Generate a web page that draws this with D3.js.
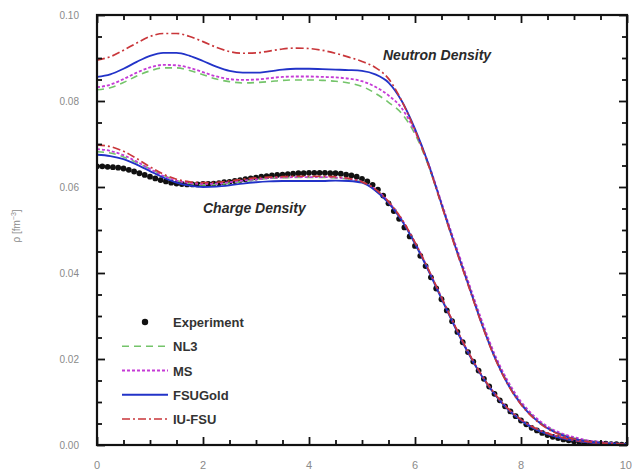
<!DOCTYPE html>
<html>
<head>
<meta charset="utf-8">
<title>Charge and neutron densities</title>
<script src="https://cdn.jsdelivr.net/npm/d3@7"></script>
</head>
<body style="margin:0;background:#fff">
<div id="figure"></div>
<script>
// Radial grid (fm) for the model curves
const radius = [0, 0.25, 0.5, 0.75, 1.0, 1.25, 1.5, 1.75, 2.0, 2.25, 2.5, 2.75, 3.0, 3.25, 3.5, 3.75,
  4.0, 4.25, 4.5, 4.75, 5.0, 5.25, 5.5, 5.75, 6.0, 6.25, 6.5, 6.75, 7.0, 7.25, 7.5, 7.75,
  8.0, 8.25, 8.5, 8.75, 9.0, 9.25, 9.5, 9.75, 10.0];

// Neutron densities (fm^-3)
const nNL3 = [0.0826, 0.0831, 0.0843, 0.0858, 0.0870, 0.0877, 0.0877, 0.0871, 0.0861, 0.0851, 0.0845, 0.0842, 0.0843, 0.0845, 0.0848, 0.0849,
  0.0849, 0.0848, 0.0846, 0.0842, 0.0834, 0.0818, 0.0797, 0.0771, 0.0723, 0.0651, 0.0559, 0.0466, 0.0377, 0.0288, 0.0207, 0.0144,
  0.0097, 0.0064, 0.0041, 0.0026, 0.0016, 0.0010, 0.0006, 0.0004, 0.0002];
const nMS = [0.0832, 0.0838, 0.0851, 0.0866, 0.0878, 0.0884, 0.0883, 0.0877, 0.0867, 0.0857, 0.0851, 0.0849, 0.0850, 0.0853, 0.0856, 0.0857,
  0.0857, 0.0856, 0.0855, 0.0852, 0.0846, 0.0833, 0.0813, 0.0783, 0.0729, 0.0656, 0.0564, 0.0471, 0.0382, 0.0293, 0.0212, 0.0149,
  0.0101, 0.0067, 0.0043, 0.0028, 0.0018, 0.0011, 0.0007, 0.0004, 0.0002];
const nFSUGold = [0.0856, 0.0862, 0.0875, 0.0891, 0.0905, 0.0912, 0.0912, 0.0905, 0.0893, 0.0880, 0.0870, 0.0866, 0.0866, 0.0869, 0.0873, 0.0875,
  0.0875, 0.0874, 0.0873, 0.0872, 0.0870, 0.0862, 0.0843, 0.0800, 0.0735, 0.0655, 0.0560, 0.0465, 0.0375, 0.0285, 0.0205, 0.0142,
  0.0095, 0.0062, 0.0039, 0.0024, 0.0014, 0.0008, 0.0005, 0.0003, 0.0002];
const nIUFSU = [0.0895, 0.0903, 0.0918, 0.0935, 0.0950, 0.0957, 0.0957, 0.0950, 0.0938, 0.0925, 0.0915, 0.0911, 0.0912, 0.0916, 0.0921, 0.0923,
  0.0922, 0.0918, 0.0911, 0.0902, 0.0892, 0.0878, 0.0852, 0.0800, 0.0732, 0.0652, 0.0558, 0.0463, 0.0373, 0.0284, 0.0204, 0.0141,
  0.0094, 0.0061, 0.0038, 0.0023, 0.0014, 0.0008, 0.0005, 0.0003, 0.0002];

// Charge densities (fm^-3)
const cNL3 = [0.0682, 0.0679, 0.0670, 0.0657, 0.0642, 0.0627, 0.0615, 0.0608, 0.0605, 0.0606, 0.0609, 0.0613, 0.0617, 0.0620, 0.0621, 0.0622,
  0.0622, 0.0622, 0.0621, 0.0618, 0.0611, 0.0594, 0.0565, 0.0524, 0.0470, 0.0408, 0.0342, 0.0277, 0.0216, 0.0163, 0.0119, 0.0084,
  0.0058, 0.0039, 0.0026, 0.0017, 0.0011, 0.0007, 0.0004, 0.0002, 0.0001];
const cMS = [0.0688, 0.0684, 0.0674, 0.0659, 0.0642, 0.0626, 0.0615, 0.0609, 0.0607, 0.0608, 0.0611, 0.0615, 0.0618, 0.0621, 0.0622, 0.0623,
  0.0623, 0.0623, 0.0622, 0.0619, 0.0612, 0.0595, 0.0566, 0.0525, 0.0471, 0.0409, 0.0343, 0.0278, 0.0217, 0.0164, 0.0120, 0.0085,
  0.0059, 0.0040, 0.0027, 0.0018, 0.0011, 0.0007, 0.0004, 0.0002, 0.0001];
const cFSUGold = [0.0675, 0.0672, 0.0665, 0.0652, 0.0637, 0.0622, 0.0610, 0.0603, 0.0600, 0.0601, 0.0604, 0.0608, 0.0611, 0.0613, 0.0614, 0.0614,
  0.0614, 0.0614, 0.0615, 0.0614, 0.0610, 0.0592, 0.0563, 0.0522, 0.0468, 0.0406, 0.0340, 0.0275, 0.0215, 0.0162, 0.0118, 0.0083,
  0.0057, 0.0038, 0.0025, 0.0016, 0.0010, 0.0006, 0.0004, 0.0002, 0.0001];
const cIUFSU = [0.0698, 0.0694, 0.0683, 0.0666, 0.0647, 0.0630, 0.0618, 0.0612, 0.0610, 0.0611, 0.0614, 0.0618, 0.0621, 0.0623, 0.0624, 0.0625,
  0.0625, 0.0625, 0.0624, 0.0620, 0.0612, 0.0595, 0.0566, 0.0525, 0.0471, 0.0409, 0.0343, 0.0278, 0.0217, 0.0164, 0.0120, 0.0085,
  0.0059, 0.0040, 0.0027, 0.0018, 0.0011, 0.0007, 0.0004, 0.0002, 0.0001];

// Measured charge density, every 0.1 fm from 0 to 10 fm
const rData = d3.range(0, 101).map(i => i / 10);
const cData = [0.0648, 0.0648, 0.0647, 0.0646, 0.0645, 0.0643, 0.0640, 0.0636, 0.0632, 0.0628,
  0.0624, 0.0620, 0.0616, 0.0613, 0.0610, 0.0608, 0.0607, 0.0606, 0.0606, 0.0606,
  0.0607, 0.0607, 0.0608, 0.0609, 0.0611, 0.0612, 0.0614, 0.0616, 0.0618, 0.0620,
  0.0622, 0.0624, 0.0625, 0.0627, 0.0628, 0.0629, 0.0630, 0.0631, 0.0632, 0.0632,
  0.0633, 0.0633, 0.0633, 0.0633, 0.0632, 0.0632, 0.0631, 0.0629, 0.0627, 0.0624,
  0.0619, 0.0613, 0.0605, 0.0594, 0.0580, 0.0562, 0.0544, 0.0526, 0.0506, 0.0485,
  0.0463, 0.0440, 0.0416, 0.0390, 0.0364, 0.0339, 0.0313, 0.0288, 0.0263, 0.0239,
  0.0216, 0.0194, 0.0173, 0.0154, 0.0136, 0.0119, 0.0104, 0.0090, 0.0078, 0.0067,
  0.0057, 0.0048, 0.0040, 0.0034, 0.0028, 0.0023, 0.0019, 0.0016, 0.0013, 0.0011,
  0.0009, 0.0007, 0.0006, 0.0005, 0.0004, 0.0003, 0.0003, 0.0002, 0.0002, 0.0001, 0.0001];

const xTickValues = [0, 2, 4, 6, 8, 10];
const yTickValues = [0.00, 0.02, 0.04, 0.06, 0.08, 0.10];
const xMinorValues = [0.5, 1, 1.5, 2.5, 3, 3.5, 4.5, 5, 5.5, 6.5, 7, 7.5, 8.5, 9, 9.5];
const yMinorValues = [0.005, 0.01, 0.015, 0.025, 0.03, 0.035, 0.045, 0.05, 0.055, 0.065, 0.07, 0.075, 0.085, 0.09, 0.095];
const seriesNames = ["Experiment", "NL3", "MS", "FSUGold", "IU-FSU"];

const W = 632, H = 472;
const L = 97, R = 627, T = 15, B = 445;

const fig = d3.select("#figure").append("svg")
  .attr("width", W).attr("height", H)
  .style("display", "block");

const xs = d3.scaleLinear().domain([0, 10]).range([L, R]);
const ys = d3.scaleLinear().domain([0, 0.10]).range([B, T]);

const look = {
  "NL3":     { color: "#74c46a", width: 1.6, dash: "7,5" },
  "MS":      { color: "#c53bd6", width: 1.8, dash: "3,2" },
  "FSUGold": { color: "#2233c8", width: 1.8, dash: "none" },
  "IU-FSU":  { color: "#c9363a", width: 1.7, dash: "8,3,2,3" }
};

fig.append("defs").append("clipPath").attr("id", "inside")
  .append("rect").attr("x", L).attr("y", T).attr("width", R - L).attr("height", B - T);

const marks = fig.append("g").attr("clip-path", "url(#inside)");

const lineGen = d3.line()
  .x(d => xs(d[0])).y(d => ys(d[1]))
  .curve(d3.curveMonotoneX);

function modelCurve(values, name) {
  const s = look[name];
  marks.append("path")
    .datum(radius.map((r, i) => [r, values[i]]))
    .attr("fill", "none")
    .attr("stroke", s.color)
    .attr("stroke-width", s.width)
    .attr("stroke-dasharray", s.dash)
    .attr("d", lineGen);
}

marks.append("g").selectAll("circle")
  .data(rData.map((r, i) => [r, cData[i]]))
  .join("circle")
  .attr("cx", d => xs(d[0]))
  .attr("cy", d => ys(d[1]))
  .attr("r", 2.9)
  .attr("fill", "#111");

modelCurve(cNL3, "NL3");
modelCurve(cMS, "MS");
modelCurve(cFSUGold, "FSUGold");
modelCurve(cIUFSU, "IU-FSU");
modelCurve(nNL3, "NL3");
modelCurve(nMS, "MS");
modelCurve(nFSUGold, "FSUGold");
modelCurve(nIUFSU, "IU-FSU");

// frame and inward ticks on all four sides
const axesLayer = fig.append("g");
function axisSide(maker, scale, shift, values, len) {
  const g = axesLayer.append("g").attr("transform", shift)
    .call(maker(scale).tickValues(values).tickSize(-len).tickFormat(""));
  g.select(".domain").remove();
  g.selectAll(".tick line").attr("stroke", "#111").attr("stroke-width", 1.8);
}
axisSide(d3.axisBottom, xs, `translate(0,${B})`, xTickValues, 8);
axisSide(d3.axisBottom, xs, `translate(0,${B})`, xMinorValues, 5);
axisSide(d3.axisTop, xs, `translate(0,${T})`, xTickValues, 8);
axisSide(d3.axisTop, xs, `translate(0,${T})`, xMinorValues, 5);
axisSide(d3.axisLeft, ys, `translate(${L},0)`, yTickValues, 8);
axisSide(d3.axisLeft, ys, `translate(${L},0)`, yMinorValues, 5);
axisSide(d3.axisRight, ys, `translate(${R},0)`, yTickValues, 8);
axisSide(d3.axisRight, ys, `translate(${R},0)`, yMinorValues, 5);

axesLayer.append("rect")
  .attr("x", L).attr("y", T).attr("width", R - L).attr("height", B - T)
  .attr("fill", "none").attr("stroke", "#111").attr("stroke-width", 2.2);

// tick labels
const sans = "Liberation Sans, Arial, sans-serif";
fig.append("g").selectAll("text").data(xTickValues).join("text")
  .attr("x", d => xs(d)).attr("y", 469)
  .attr("text-anchor", d => d === 10 ? "end" : "middle")
  .attr("dx", d => d === 10 ? 5 : 0)
  .attr("font-family", sans).attr("font-size", 11)
  .attr("fill", "#8a8a8a")
  .text(d => d);
fig.append("g").selectAll("text").data(yTickValues).join("text")
  .attr("x", 79).attr("y", d => ys(d) + 4)
  .attr("text-anchor", "end")
  .attr("font-family", sans).attr("font-size", 10)
  .attr("fill", "#8a8a8a")
  .text(d => d3.format(".2f")(d));

// y-axis title
const yLabel = fig.append("text")
  .attr("transform", "translate(20,226) rotate(-90)")
  .attr("text-anchor", "middle")
  .attr("font-family", sans).attr("font-size", 10)
  .attr("fill", "#8a8a8a");
yLabel.append("tspan").text("ρ [fm");
yLabel.append("tspan").attr("font-size", 7).attr("dy", -4).text("−3");
yLabel.append("tspan").attr("dy", 4).text("]");

// curve group labels
fig.append("text").attr("x", 383).attr("y", 60)
  .attr("font-family", sans).attr("font-size", 14)
  .attr("font-weight", "bold").attr("font-style", "italic")
  .attr("fill", "#2a2a2a").text("Neutron Density");
fig.append("text").attr("x", 203).attr("y", 213)
  .attr("font-family", sans).attr("font-size", 14)
  .attr("font-weight", "bold").attr("font-style", "italic")
  .attr("fill", "#2a2a2a").text("Charge Density");

// legend
const key = fig.append("g");
const keyY = d3.scalePoint().domain(seriesNames).range([322, 419]);
seriesNames.forEach(name => {
  const yy = keyY(name);
  if (name === "Experiment") {
    key.append("circle").attr("cx", 145).attr("cy", yy).attr("r", 3.2).attr("fill", "#111");
  } else {
    const s = look[name];
    key.append("line")
      .attr("x1", 122).attr("x2", 168).attr("y1", yy).attr("y2", yy)
      .attr("stroke", s.color).attr("stroke-width", s.width)
      .attr("stroke-dasharray", s.dash);
  }
  key.append("text").attr("x", 173).attr("y", yy + 5)
    .attr("font-family", sans).attr("font-size", 13)
    .attr("font-weight", "bold").attr("fill", "#333")
    .text(name);
});
</script>
</body>
</html>
